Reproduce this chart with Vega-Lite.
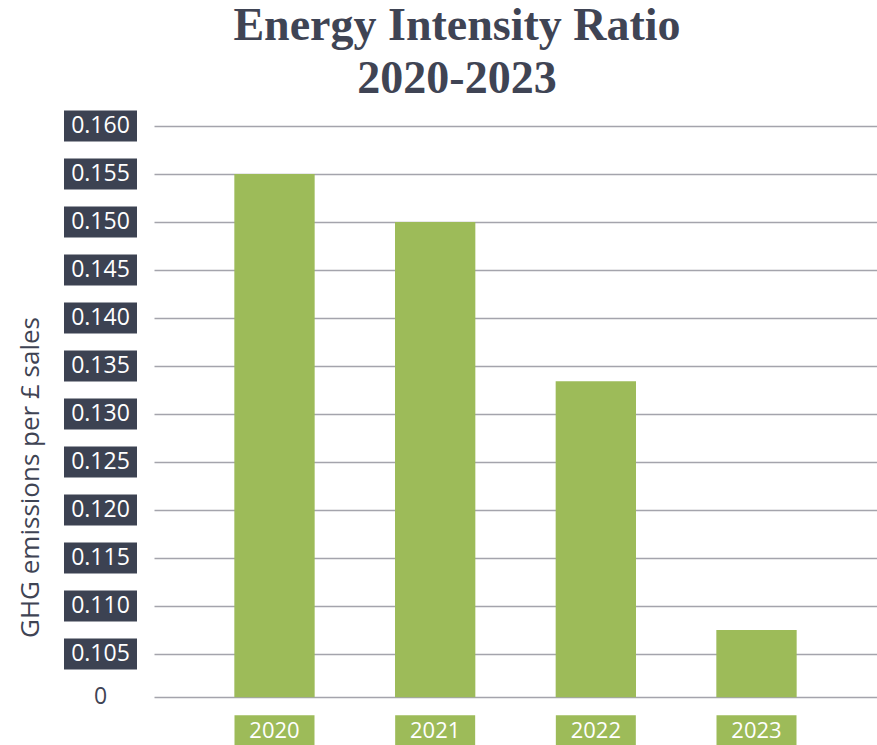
{
  "$schema": "https://vega.github.io/schema/vega-lite/v6.json",
  "background": "white",
  "padding": {"left": 17, "top": 2, "right": 2, "bottom": 0},
  "title": {
    "text": ["Energy Intensity Ratio", "2020-2023"],
    "font": "Liberation Serif",
    "fontSize": 46,
    "fontWeight": "bold",
    "color": "#3f4454",
    "lineHeight": 53,
    "anchor": "middle",
    "dx": 10,
    "offset": 8
  },
  "datasets": {
    "ratios": [
      {"year": "2020", "ratio": 0.155},
      {"year": "2021", "ratio": 0.150},
      {"year": "2022", "ratio": 0.1334},
      {"year": "2023", "ratio": 0.1075}
    ],
    "ticks": [
      {"tick": 0.160, "label": "0.160"},
      {"tick": 0.155, "label": "0.155"},
      {"tick": 0.150, "label": "0.150"},
      {"tick": 0.145, "label": "0.145"},
      {"tick": 0.140, "label": "0.140"},
      {"tick": 0.135, "label": "0.135"},
      {"tick": 0.130, "label": "0.130"},
      {"tick": 0.125, "label": "0.125"},
      {"tick": 0.120, "label": "0.120"},
      {"tick": 0.115, "label": "0.115"},
      {"tick": 0.110, "label": "0.110"},
      {"tick": 0.105, "label": "0.105"},
      {"tick": 0.1005, "label": "0"}
    ]
  },
  "spacing": 17,
  "resolve": {"scale": {"y": "shared"}, "axis": {"y": "independent"}},
  "hconcat": [
    {
      "width": 73,
      "height": 624,
      "data": {"name": "ticks"},
      "layer": [
        {
          "transform": [{"filter": "datum.label !== '0'"}],
          "mark": {"type": "tick", "orient": "horizontal", "size": 73, "thickness": 31, "color": "#3c4252", "opacity": 1},
          "encoding": {
            "y": {
              "field": "tick",
              "type": "quantitative",
              "scale": {"domain": [0.095, 0.16], "nice": false, "zero": false},
              "axis": {
                "title": "GHG emissions per £ sales",
                "titleFont": "Open Sans",
                "titleFontSize": 26,
                "titleFontWeight": "normal",
                "titleColor": "#3f4454",
                "titlePadding": 21,
                "titleY": 351,
                "labels": false,
                "ticks": false,
                "domain": false,
                "grid": false
              }
            }
          }
        },
        {
          "mark": {"type": "text", "font": "Open Sans", "fontSize": 23, "baseline": "middle", "align": "center"},
          "encoding": {
            "y": {"field": "tick", "type": "quantitative"},
            "text": {"field": "label"},
            "color": {
              "condition": {"test": "datum.label === '0'", "value": "#3f4454"},
              "value": "#ffffff"
            }
          }
        }
      ]
    },
    {
      "width": 723,
      "height": 624,
      "data": {"name": "ratios"},
      "layer": [
        {
          "mark": {"type": "bar", "color": "#9dbb59"},
          "encoding": {
            "x": {
              "field": "year",
              "type": "nominal",
              "scale": {"paddingInner": 0.5, "paddingOuter": 0.5},
              "axis": null
            },
            "y": {
              "field": "ratio",
              "type": "quantitative",
              "scale": {"domain": [0.095, 0.16], "nice": false, "zero": false},
              "axis": {
                "title": null,
                "labels": false,
                "ticks": false,
                "domain": false,
                "grid": true,
                "gridColor": "#a4a4ac",
                "gridWidth": 1.6,
                "values": [0.1005, 0.105, 0.11, 0.115, 0.12, 0.125, 0.13, 0.135, 0.14, 0.145, 0.15, 0.155, 0.16]
              }
            },
            "y2": {"datum": 0.1005}
          }
        },
        {
          "mark": {"type": "tick", "orient": "horizontal", "size": 80, "thickness": 31, "color": "#9dbb59", "opacity": 1},
          "encoding": {
            "x": {"field": "year", "type": "nominal"},
            "y": {"datum": 0.097}
          }
        },
        {
          "mark": {"type": "text", "font": "Open Sans", "fontSize": 22, "baseline": "middle", "align": "center", "color": "#ffffff"},
          "encoding": {
            "x": {"field": "year", "type": "nominal"},
            "y": {"datum": 0.097},
            "text": {"field": "year"}
          }
        }
      ]
    }
  ],
  "config": {
    "view": {"stroke": null}
  }
}
